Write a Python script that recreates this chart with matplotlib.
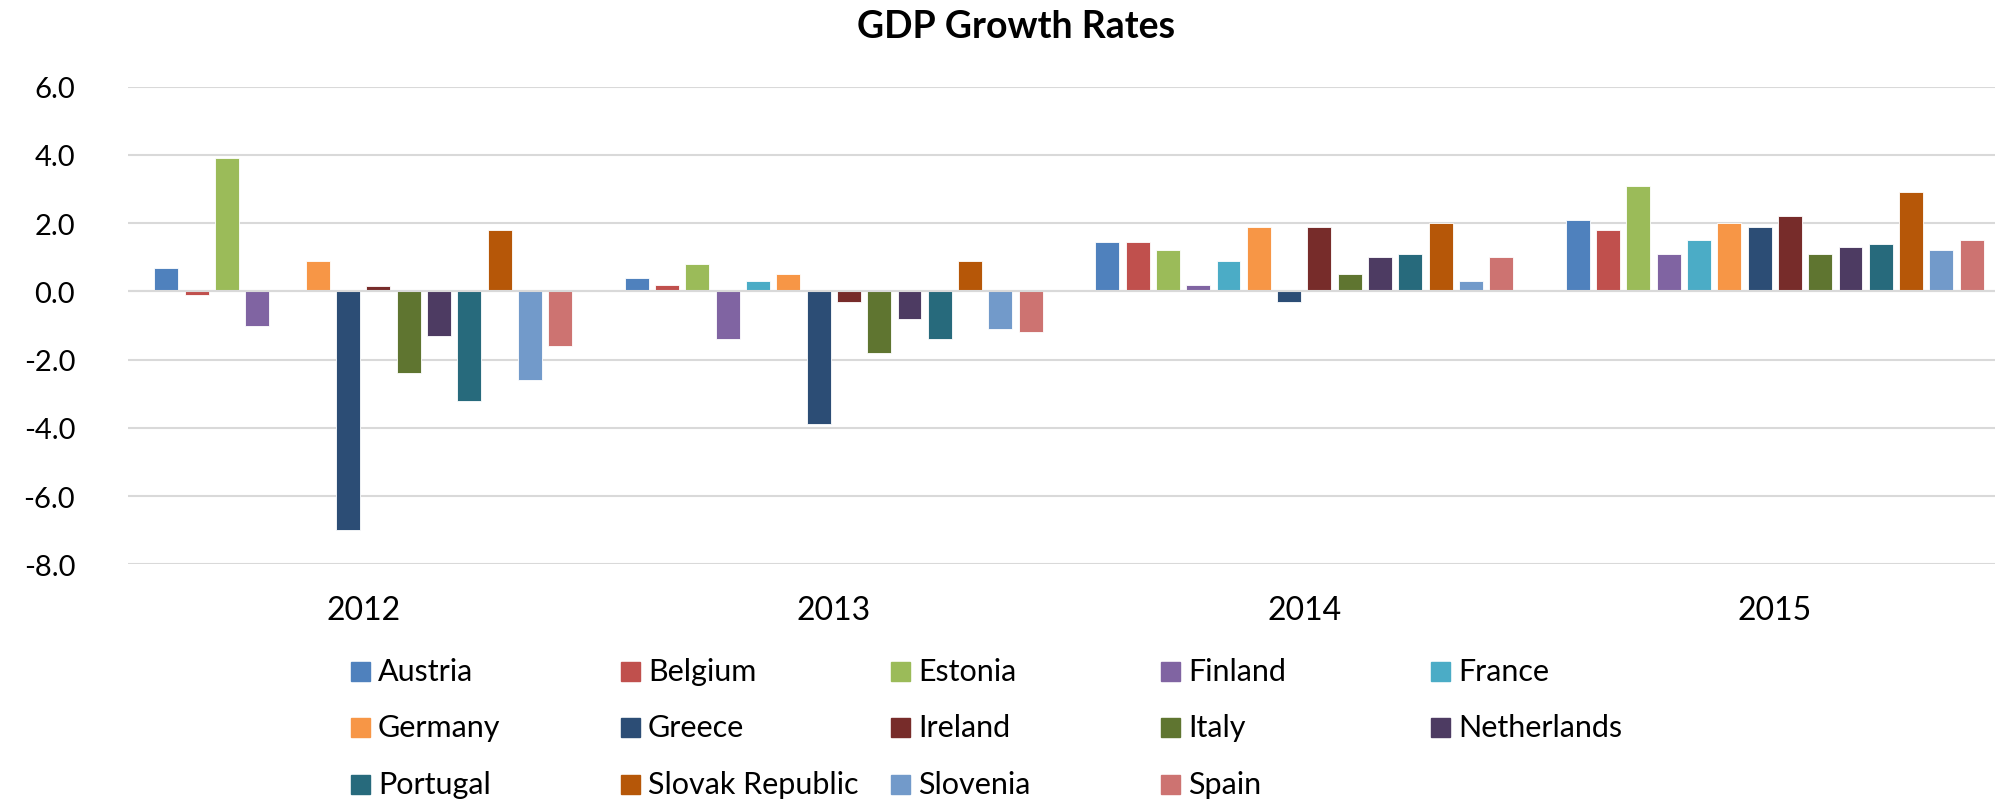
import matplotlib.pyplot as plt
import numpy as np
from matplotlib.patches import Rectangle

# Data: annual GDP growth (%)
years = ['2012', '2013', '2014', '2015']
countries = ['Austria', 'Belgium', 'Estonia', 'Finland', 'France',
             'Germany', 'Greece', 'Ireland', 'Italy', 'Netherlands',
             'Portugal', 'Slovak Republic', 'Slovenia', 'Spain']
austria = [0.7, 0.4, 1.45, 2.1]
belgium = [-0.1, 0.2, 1.45, 1.8]
estonia = [3.9, 0.8, 1.2, 3.1]
finland = [-1.0, -1.4, 0.2, 1.1]
france = [0.05, 0.3, 0.9, 1.5]
germany = [0.9, 0.5, 1.9, 2.0]
greece = [-7.0, -3.9, -0.3, 1.9]
ireland = [0.15, -0.3, 1.9, 2.2]
italy = [-2.4, -1.8, 0.5, 1.1]
netherlands = [-1.3, -0.8, 1.0, 1.3]
portugal = [-3.2, -1.4, 1.1, 1.4]
slovak_republic = [1.8, 0.9, 2.0, 2.9]
slovenia = [-2.6, -1.1, 0.3, 1.2]
spain = [-1.6, -1.2, 1.0, 1.5]

series = [austria, belgium, estonia, finland, france, germany, greece,
          ireland, italy, netherlands, portugal, slovak_republic, slovenia, spain]
colors = ['#4F81BD', '#C0504D', '#9BBB59', '#8064A2', '#4BACC6', '#F79646', '#2C4D75',
          '#772C2A', '#5F7530', '#4D3B62', '#276A7C', '#B65708', '#729ACA', '#CD7371']

plt.rcParams['font.family'] = ['Lato', 'DejaVu Sans']
plt.rcParams['axes.unicode_minus'] = False

W, H = 1995, 804
fig = plt.figure(figsize=(W / 100, H / 100), dpi=100)
ax = fig.add_axes([128 / W, (H - 565.3) / H, 1882 / W, (565.3 - 87.7) / H])

x = np.arange(len(years))
pitch = 0.0644
bar_width = 0.051
for i, (vals, name, c) in enumerate(zip(series, countries, colors)):
    ax.bar(x + (i - 6.5) * pitch, vals, width=bar_width, color=c, label=name,
           edgecolor='white', linewidth=0.6, zorder=2)

ax.set_xlim(-0.5, 3.5)
ax.set_ylim(-8, 6)
ax.set_yticks(np.arange(-8, 7, 2))
ax.yaxis.set_major_formatter(plt.FormatStrFormatter('%.1f'))
ax.set_xticks(x, years)
ax.grid(axis='y', color='#D9D9D9', linewidth=1.5, zorder=0)
ax.axhline(0, color='#D9D9D9', linewidth=1.5, zorder=3)
ax.set_axisbelow(True)
for s in ax.spines.values():
    s.set_visible(False)
ax.tick_params(axis='y', length=0, pad=38, labelsize=21)
ax.tick_params(axis='x', length=0, pad=22, labelsize=23)

fig.text(1016 / W, 1 - 27 / H, 'GDP Growth Rates', ha='center', va='center',
         fontsize=27, fontweight='bold')

# Legend laid out in equal-width columns, row by row
for i, (name, c) in enumerate(zip(countries, colors)):
    row, col = divmod(i, 5)
    lx = 351 + col * 270
    ly = 672 + row * 56.5
    fig.patches.append(Rectangle((lx / W, 1 - (ly + 9.5) / H), 19 / W, 19 / H,
                                 transform=fig.transFigure, color=c))
    fig.text((lx + 27) / W, 1 - ly / H, name, ha='left', va='center', fontsize=22)

fig.savefig('out.png', dpi=100)
